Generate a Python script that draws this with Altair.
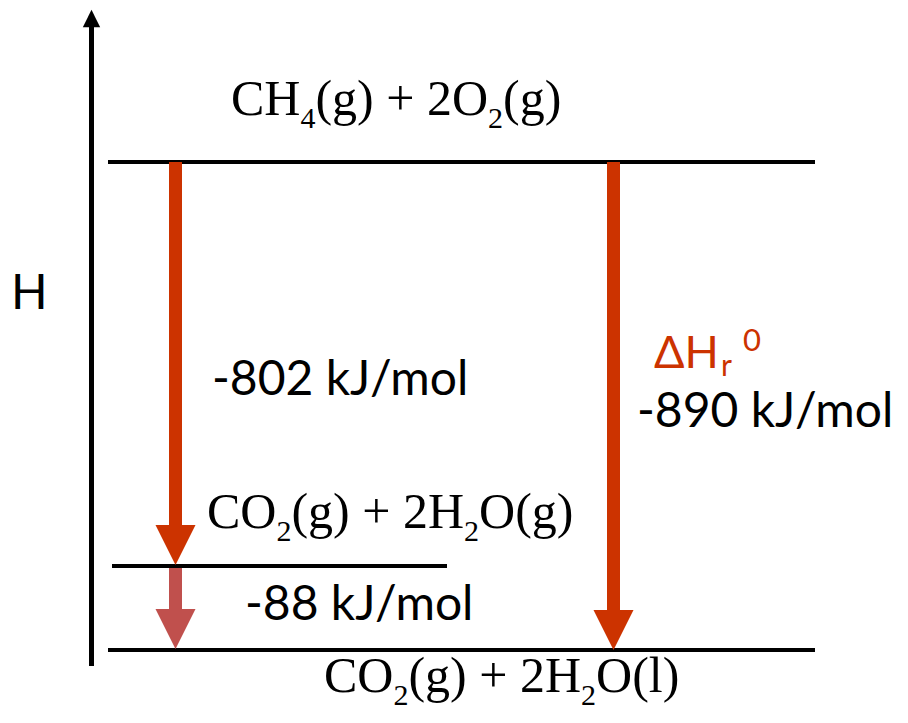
import altair as alt
import pandas as pd

# ---------------- content ----------------
# energy levels (diagram layout units = pixels of the original figure)
level_names = ["CH4(g) + 2O2(g)", "CO2(g) + 2H2O(g)", "CO2(g) + 2H2O(l)"]
level_x0 = [108, 112, 108]
level_x1 = [815, 447, 815]
level_y = [162, 566, 650]

# enthalpy-change arrows
arrow_names = ["-802 kJ/mol", "-88 kJ/mol", "-890 kJ/mol"]
arrow_x = [175.5, 175.5, 613.5]
arrow_start = [162, 568, 162]
arrow_head = [545, 629, 630]
arrow_color = ["#CC3300", "#C0504D", "#CC3300"]

# vertical H axis arrow
axis_x = [91.5]
axis_bottom = [666]
axis_head = [18.5]

# formulas written as (text, is_subscript) segments
formula_segments = [
    [("CH", 0), ("4", 1), ("(g) + 2O", 0), ("2", 1), ("(g)", 0)],
    [("CO", 0), ("2", 1), ("(g) + 2H", 0), ("2", 1), ("O(g)", 0)],
    [("CO", 0), ("2", 1), ("(g) + 2H", 0), ("2", 1), ("O(l)", 0)],
]
formula_x = [231, 207, 324]
formula_baseline = [115, 528, 692]

# sans-serif labels
label_text = ["H", "-802 kJ/mol", "-88 kJ/mol", "-890 kJ/mol", "ΔH", "r", "0"]
label_x = [11, 212, 245, 637, 654, 721, 743]
label_y = [309, 395, 620, 427, 368, 376, 351]
label_size = [48, 48, 48, 48, 45, 30, 31]
label_color = ["#000000", "#000000", "#000000", "#000000", "#CC3300", "#CC3300", "#CC3300"]

# ---------------- tables ----------------
MAIN, SUB, SUB_DROP = 50, 30, 13
TIMES_W = {"C": .667, "H": .722, "O": .722, "(": .333, ")": .333, "g": .5,
           "l": .278, " ": .25, "+": .564, "2": .5, "4": .5}

rows = []
for segs, x0, base in zip(formula_segments, formula_x, formula_baseline):
    cur = x0
    for txt, sub in segs:
        size = SUB if sub else MAIN
        rows.append({"text": txt, "x": cur, "y": base + (SUB_DROP if sub else 0), "size": size})
        cur += sum(TIMES_W.get(c, .5) for c in txt) * size
formula_df = pd.DataFrame(rows)

levels_df = pd.DataFrame({"name": level_names, "x0": level_x0, "x1": level_x1, "y": level_y})
arrows_df = pd.DataFrame({"name": arrow_names, "x": arrow_x, "y0": arrow_start,
                          "y1": arrow_head, "color": arrow_color})
axis_df = pd.DataFrame({"x": axis_x, "y0": axis_bottom, "y1": axis_head})
labels_df = pd.DataFrame({"text": label_text, "x": label_x, "y": label_y,
                          "size": label_size, "color": label_color})

W, H = 892, 706
xs = alt.Scale(domain=[8, 8 + W], nice=False, zero=False)
ys = alt.Scale(domain=[8 + H, 8], nice=False, zero=False)

def X(f="x"):
    return alt.X(f"{f}:Q", scale=xs, axis=None)

def Y(f="y"):
    return alt.Y(f"{f}:Q", scale=ys, axis=None)

levels = alt.Chart(levels_df).mark_rule(strokeWidth=4, color="black", strokeCap="butt").encode(
    x=X("x0"), x2="x1:Q", y=Y("y"))

shafts = alt.Chart(arrows_df).mark_rule(strokeWidth=13, strokeCap="butt").encode(
    x=X("x"), y=Y("y0"), y2="y1:Q", color=alt.Color("color:N", scale=None))

heads = alt.Chart(arrows_df).mark_point(
    shape="M-1,-1L1,-1L0,1Z", size=1600, filled=True, opacity=1, strokeWidth=0).encode(
    x=X("x"), y=Y("y1"), color=alt.Color("color:N", scale=None))

axis_shaft = alt.Chart(axis_df).mark_rule(strokeWidth=5, color="black", strokeCap="butt").encode(
    x=X("x"), y=Y("y0"), y2="y1:Q")

axis_head = alt.Chart(axis_df).mark_point(
    shape="M-1,1L1,1L0,-1Z", size=300, filled=True, opacity=1, color="black", strokeWidth=0).encode(
    x=X("x"), y=Y("y1"))

formulas = alt.Chart(formula_df).mark_text(
    font="Liberation Serif", align="left", baseline="alphabetic", color="black").encode(
    x=X("x"), y=Y("y"), text="text:N", size=alt.Size("size:Q", scale=None))

labels = alt.Chart(labels_df).mark_text(
    font="Lato", align="left", baseline="alphabetic").encode(
    x=X("x"), y=Y("y"), text="text:N", size=alt.Size("size:Q", scale=None),
    color=alt.Color("color:N", scale=None))

chart = alt.layer(levels, shafts, heads, axis_shaft, axis_head, formulas, labels).properties(
    width=W, height=H, autosize=alt.AutoSizeParams(type="none"), padding=0,
    background="white").configure_view(strokeWidth=0)

chart.save("out.html", embed_options={"renderer": "svg", "actions": False})
